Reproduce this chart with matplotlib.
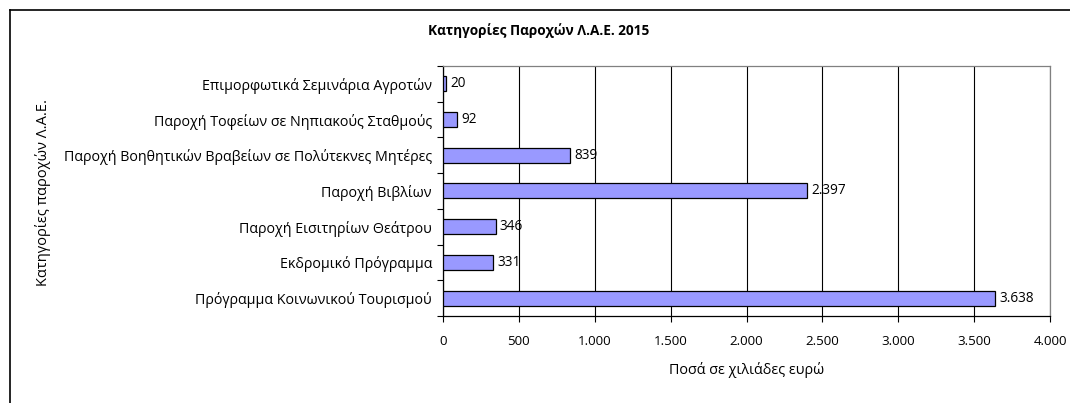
import matplotlib
matplotlib.use("Agg")
import matplotlib.pyplot as plt
from matplotlib.lines import Line2D
import numpy as np

plt.rcParams['font.family'] = ['Open Sans', 'Noto Sans', 'DejaVu Sans']

categories = [
    "Επιμορφωτικά Σεμινάρια Αγροτών",
    "Παροχή Τοφείων σε Νηπιακούς Σταθμούς",
    "Παροχή Βοηθητικών Βραβείων σε Πολύτεκνες Μητέρες",
    "Παροχή Βιβλίων",
    "Παροχή Εισιτηρίων Θεάτρου",
    "Εκδρομικό Πρόγραμμα",
    "Πρόγραμμα Κοινωνικού Τουρισμού",
]
values = [20, 92, 839, 2397, 346, 331, 3638]
value_labels = ["20", "92", "839", "2.397", "346", "331", "3.638"]
xticks = [0, 500, 1000, 1500, 2000, 2500, 3000, 3500, 4000]
xtick_labels = ["0", "500", "1.000", "1.500", "2.000", "2.500", "3.000", "3.500", "4.000"]

W, H = 1070, 403
fig = plt.figure(figsize=(W / 100, H / 100), dpi=100)
ax = fig.add_axes([443 / W, 1 - 316 / H, (1050 - 443) / W, (316 - 66) / H])

n = len(categories)
ypos = np.arange(n)[::-1]
ax.barh(ypos, values, height=0.42, color="#9999ff", edgecolor="black", linewidth=0.9, zorder=3)
ax.set_xlim(0, 4000)
ax.set_ylim(-0.5, n - 0.5)

ax.set_xticks(xticks)
ax.set_xticklabels(xtick_labels, fontsize=9.6)
ax.set_yticks(ypos)
ax.set_yticklabels(categories, fontsize=10.3)
ax.tick_params(axis='y', length=0, pad=8)
ax.set_yticks(np.arange(-0.5, n, 1), minor=True)
ax.tick_params(axis='y', which='minor', length=4, width=0.8, direction='out')
ax.tick_params(axis='x', length=4, width=0.8, direction='out', pad=10)

ax.grid(axis='x', color='black', linewidth=0.8, zorder=0)
for s in ['top', 'right']:
    ax.spines[s].set_color('#808080')
    ax.spines[s].set_linewidth(0.9)
for s in ['left', 'bottom']:
    ax.spines[s].set_color('black')
    ax.spines[s].set_linewidth(0.9)

for y, v, lab in zip(ypos, values, value_labels):
    ax.annotate(lab, (v, y), xytext=(3, 0), textcoords='offset points',
                va='center', ha='left', fontsize=9.8, zorder=4)

ax.set_xlabel("Ποσά σε χιλιάδες ευρώ", fontsize=10.4, labelpad=10)

fig.text(539 / W, 1 - 31 / H, "Κατηγορίες Παροχών Λ.Α.Ε. 2015", ha='center', va='center',
         fontsize=9.8, fontweight='bold')
fig.text(43 / W, 1 - 192 / H, "Κατηγορίες παροχών Λ.Α.Ε.", ha='center', va='center',
         rotation=90, fontsize=10.5)

# outer chart frame (cropped)
fig.add_artist(Line2D([9.5 / W, 9.5 / W], [0, 1 - 9.5 / H], transform=fig.transFigure,
                      color='black', linewidth=1.2))
fig.add_artist(Line2D([9.5 / W, 1], [1 - 9.5 / H, 1 - 9.5 / H], transform=fig.transFigure,
                      color='black', linewidth=1.2))

fig.savefig("out.png", dpi=100)
